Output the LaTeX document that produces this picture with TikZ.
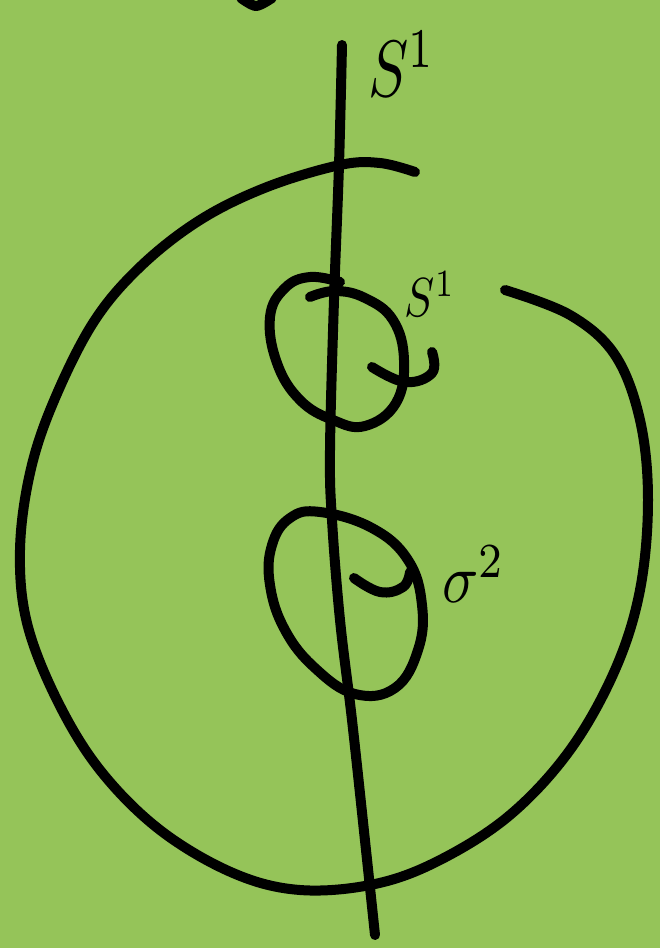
\documentclass[tikz,border=0pt]{standalone}
\usepackage{tikz}
\definecolor{bg}{RGB}{149,196,89}
\tikzset{ink/.style={line width=10pt,line cap=round,line join=round,black}}
\begin{document}
\begin{tikzpicture}[x=1pt,y=-1pt]
\fill[bg] (0,0) rectangle (660,948);
\useasboundingbox (0,0) rectangle (660,948);
% top-left fragment
\draw[ink] plot[smooth] coordinates {(241,-2) (256,6) (272,-2)};
% vertical line S^1
\draw[ink] plot[smooth,tension=0.6] coordinates {(342,45) (339,165) (334,300) (330,450) (332,520) (340,620) (352,720) (366,850) (375,935)};
% big open circle
\draw[ink] plot[smooth,tension=0.6] coordinates {(415,172) (380,163) (340,165) (267,187) (200,220) (140,267) (93,323) (53,403) (30,473) (20,550) (27,623) (57,700) (100,770) (160,830) (233,873) (300,890) (375,884) (440,860) (510,815) (570,750) (615,670) (640,590) (648,500) (640,420) (615,355) (570,315) (505,290)};
% upper small circle
\draw[ink] plot[smooth,tension=0.7] coordinates {(310,297) (335,291) (365,298) (393,320) (404,360) (396,403) (365,426) (333,420) (300,400) (277,363) (270,317) (285,288) (310,277) (340,282)};
\draw[ink] plot[smooth,tension=0.7] coordinates {(372,367) (405,382) (432,373) (432,352)};
% lower small circle
\draw[ink] plot[smooth cycle,tension=0.7] coordinates {(320,512) (290,518) (272,545) (270,585) (285,630) (315,668) (355,694) (395,688) (418,650) (422,605) (408,560) (372,528)};
\draw[ink] plot[smooth,tension=0.7] coordinates {(354,578) (380,592) (403,587) (410,572)};
% labels
\node[inner sep=0pt] (lblA) at (402,64) {\scalebox{6}[8]{$S^1$}};
\node[inner sep=0pt] (lblB) at (430,294) {\scalebox{4.5}[5.5]{$S^1$}};
\node[inner sep=0pt] (lblC) at (474,574) {\scalebox{6}[7]{$\sigma^2$}};
\end{tikzpicture}
\end{document}
